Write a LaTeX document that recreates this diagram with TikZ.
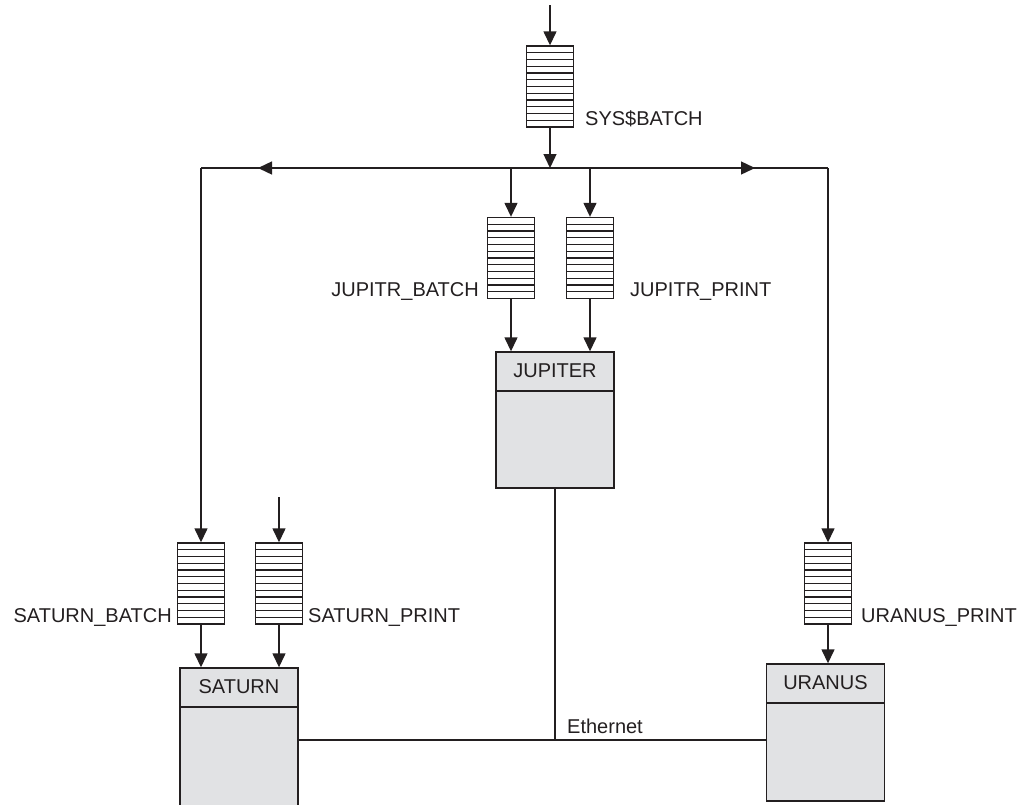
\documentclass[tikz,border=0pt]{standalone}
\usepackage{fontspec}
\setmainfont{Liberation Sans}
\usetikzlibrary{arrows.meta,calc}
\definecolor{ink}{HTML}{231F20}
\definecolor{boxfill}{HTML}{E1E2E4}
\begin{document}
\begin{tikzpicture}[x=1pt,y=-1pt,
  every node/.style={font=\fontsize{20}{23}\selectfont, text=ink},
  line/.style={draw=ink, line width=1.4pt},
  arr/.style={line, -{Triangle[length=14pt,width=13pt]}},
  queue/.style={draw=ink, line width=1.4pt, fill=white, rectangle, inner sep=0pt,
    minimum width=47pt, minimum height=81pt,
    path picture={
      \foreach \i in {1,...,11}{
        \draw[ink, line width=1.2pt]
          ($(path picture bounding box.north west)!\i/12!(path picture bounding box.south west)$) --
          ($(path picture bounding box.north east)!\i/12!(path picture bounding box.south east)$);
      }}},
  comp/.style={draw=ink, line width=1.4pt, fill=boxfill, rectangle, inner sep=0pt,
    minimum width=118pt,
    path picture={
      \draw[ink, line width=1.4pt]
        ($(path picture bounding box.north west)+(0,39)$) --
        ($(path picture bounding box.north east)+(0,39)$);
    }},
  qlabel/.style={inner sep=0pt},
]
\useasboundingbox (0,0) rectangle (1021,804);

% queues
\node[queue] (sys) at (550,86.5) {};
\node[queue] (jb) at (511,258) {};
\node[queue] (jp) at (590,258) {};
\node[queue] (sb) at (201,583.5) {};
\node[queue] (sp) at (279,583.5) {};
\node[queue] (up) at (828,583.5) {};

% labels
\node[qlabel, anchor=base west] (lsys) at (585,125) {SYS\$BATCH};
\node[qlabel, anchor=base east] (ljb) at (479,296) {JUPITR\_BATCH};
\node[qlabel, anchor=base west] (ljp) at (630,296) {JUPITR\_PRINT};
\node[qlabel, anchor=base east] (lsb) at (172,622) {SATURN\_BATCH};
\node[qlabel, anchor=base west] (lsp) at (308,622) {SATURN\_PRINT};
\node[qlabel, anchor=base west] (lup) at (861,622) {URANUS\_PRINT};

% computers
\node[comp, minimum height=136pt] (jup) at (555,420) {};
\node[qlabel] (tjup) at ($(jup.north)+(0,19.5)$) {JUPITER};
\node[comp, minimum height=142pt] (sat) at (239,739) {};
\node[qlabel] (tsat) at ($(sat.north)+(0,19.5)$) {SATURN};
\node[comp, minimum height=137pt] (ura) at (825.5,732.5) {};
\node[qlabel] (tura) at ($(ura.north)+(0,19.5)$) {URANUS};

% coordinates
\coordinate (topin) at (550,5);
\coordinate (spin) at (279,497);
\coordinate (busC) at (550,168);
\coordinate (busL) at (201,168);
\coordinate (busR) at (828,168);
\coordinate (tipL) at (258,168);
\coordinate (tipR) at (755,168);
\coordinate (eth) at (555,740);

% connectors
\draw[arr] (topin) -- (sys.north);
\draw[arr] (sys.south) -- (busC);
\draw[line] (busL) -- (busR);
\draw[arr] (busC) -- (tipL);
\draw[arr] (busC) -- (tipR);
\draw[arr] (busL) -- (sb.north);
\draw[arr] (busR) -- (up.north);
\draw[arr] (jb.north |- busC) -- (jb.north);
\draw[arr] (jp.north |- busC) -- (jp.north);
\draw[arr] (jb.south) -- (jup.north -| jb.south);
\draw[arr] (jp.south) -- (jup.north -| jp.south);
\draw[arr] (spin) -- (sp.north);
\draw[arr] (sb.south) -- (sat.north -| sb.south);
\draw[arr] (sp.south) -- (sat.north -| sp.south);
\draw[arr] (up.south) -- (ura.north -| up.south);

% ethernet
\draw[line] (sat.east |- eth) -- (ura.west |- eth);
\draw[line] (jup.south) -- (eth);
\node[qlabel, anchor=base west] (leth) at (567,733) {Ethernet};
\end{tikzpicture}
\end{document}
